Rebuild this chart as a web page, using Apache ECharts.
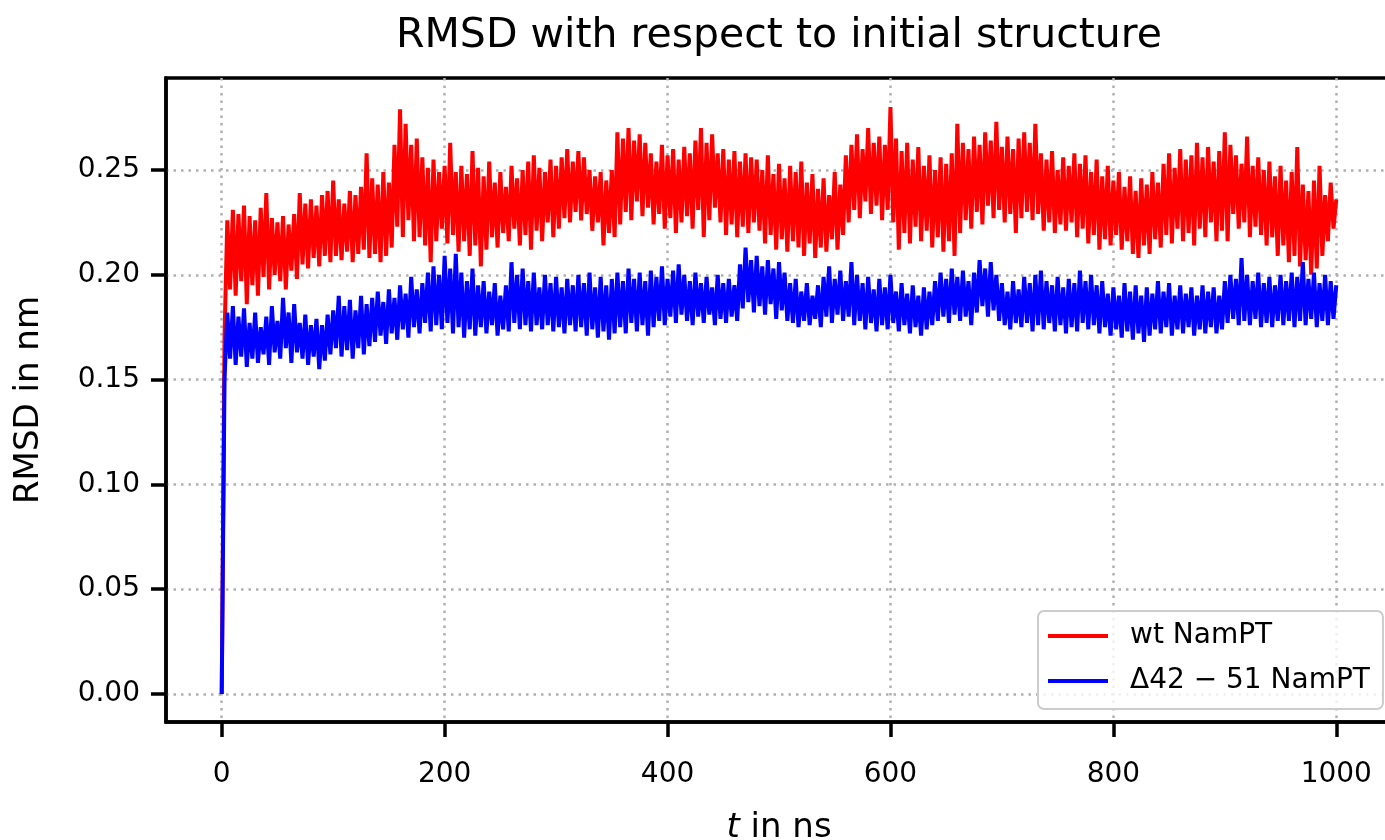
<!DOCTYPE html>
<html>
<head>
<meta charset="utf-8">
<script src="https://cdn.jsdelivr.net/npm/echarts@6/dist/echarts.min.js"></script>
<style>
  html, body { margin: 0; padding: 0; background: #ffffff; }
  #chart { width: 1385px; height: 840px; }
</style>
</head>
<body>
<div id="chart"></div>
<script>
// Sampling: upper-envelope samples at t = 0,5,...,1000 ns; lower-envelope samples at t = 2.5,7.5,...,997.5 ns
const STEP = 5;
const xTicks = [0, 200, 400, 600, 800, 1000];
const yTicks = [0, 0.05, 0.10, 0.15, 0.20, 0.25];
const seriesNames = ['wt NamPT', 'Δ42 − 51 NamPT'];

const wtHi = [
  0, .226, .231, .229, .233, .228, .226, .232, .239, .227, .225, .228, .224, .229, .239, .234, .236, .233, .238, .240,
  .245, .236, .234, .240, .238, .242, .258, .246, .243, .249, .244, .262, .279, .272, .262, .265, .256, .251, .255, .249,
  .252, .263, .249, .252, .248, .259, .251, .247, .254, .244, .249, .242, .252, .246, .250, .254, .257, .251, .249, .255,
  .252, .256, .260, .254, .259, .256, .250, .247, .249, .245, .250, .268, .265, .270, .264, .267, .263, .258, .254, .262,
  .257, .260, .255, .261, .258, .264, .270, .263, .267, .258, .260, .255, .259, .254, .258, .256, .255, .250, .257, .248,
  .253, .246, .252, .249, .254, .244, .248, .241, .246, .238, .249, .243, .257, .262, .267, .260, .270, .263, .266, .262,
  .280, .265, .259, .263, .255, .261, .252, .257, .250, .256, .253, .258, .272, .263, .260, .266, .262, .268, .264, .273,
  .261, .266, .260, .265, .268, .263, .272, .258, .255, .259, .250, .256, .252, .258, .253, .257, .249, .255, .247, .252,
  .245, .249, .242, .247, .240, .246, .243, .249, .244, .253, .258, .251, .260, .255, .257, .263, .256, .261, .254, .259,
  .268, .262, .257, .253, .266, .252, .256, .250, .254, .247, .252, .245, .249, .261, .243, .240, .245, .252, .238, .244,
  .236
];
const wtLo = [
  .170, .193, .190, .197, .186, .195, .190, .199, .193, .200, .197, .193, .202, .198, .205, .203, .208, .204, .209, .206,
  .209, .207, .211, .206, .210, .212, .208, .210, .206, .209, .213, .223, .218, .226, .216, .218, .214, .206, .216, .222,
  .215, .219, .211, .216, .209, .214, .204, .212, .218, .213, .220, .216, .222, .214, .219, .212, .221, .216, .225, .218,
  .222, .227, .225, .230, .226, .229, .221, .225, .214, .220, .218, .224, .230, .226, .235, .228, .232, .224, .229, .222,
  .227, .220, .225, .228, .222, .231, .218, .226, .232, .225, .219, .224, .218, .223, .220, .225, .221, .215, .219, .212,
  .217, .211, .216, .213, .209, .215, .208, .213, .211, .217, .212, .219, .225, .231, .227, .235, .229, .233, .226, .231,
  .225, .212, .220, .215, .223, .216, .221, .213, .218, .211, .216, .209, .220, .226, .222, .230, .224, .233, .227, .231,
  .225, .229, .220, .227, .230, .226, .229, .221, .225, .220, .224, .221, .225, .218, .222, .215, .219, .212, .217, .214,
  .219, .212, .216, .210, .208, .214, .210, .217, .213, .219, .215, .222, .216, .220, .214, .222, .218, .225, .216, .221,
  .216, .229, .222, .225, .218, .223, .219, .214, .218, .209, .214, .206, .209, .204, .207, .200, .203, .209, .216, .222
];
const dHi = [
  0, .182, .185, .180, .184, .177, .182, .175, .180, .185, .178, .189, .182, .186, .177, .181, .176, .179, .176, .181,
  .183, .190, .185, .188, .183, .190, .186, .189, .192, .187, .193, .189, .195, .191, .199, .193, .196, .201, .204, .200,
  .209, .203, .210, .201, .197, .203, .195, .197, .192, .196, .190, .195, .206, .200, .203, .197, .201, .194, .200, .196,
  .199, .194, .198, .195, .200, .196, .201, .194, .199, .195, .198, .201, .197, .203, .198, .201, .197, .202, .199, .204,
  .198, .202, .205, .200, .197, .201, .196, .199, .194, .200, .196, .198, .195, .205, .213, .207, .209, .204, .207, .203,
  .206, .201, .196, .198, .192, .196, .190, .195, .199, .204, .198, .202, .197, .206, .200, .196, .199, .193, .198, .194,
  .200, .192, .196, .191, .195, .190, .194, .192, .197, .201, .198, .203, .199, .202, .197, .201, .207, .203, .206, .200,
  .196, .192, .197, .193, .199, .196, .200, .202, .197, .195, .199, .194, .198, .196, .202, .197, .200, .195, .197, .191,
  .194, .190, .196, .192, .195, .190, .194, .191, .197, .192, .196, .190, .195, .191, .194, .190, .195, .192, .194, .190,
  .197, .200, .198, .208, .200, .197, .201, .196, .199, .195, .200, .197, .201, .199, .206, .198, .201, .196, .200, .197,
  .195
];
const dLo = [
  .150, .160, .157, .161, .156, .160, .158, .162, .157, .163, .160, .165, .158, .163, .160, .157, .161, .155, .159, .162,
  .165, .161, .164, .160, .165, .162, .166, .168, .171, .167, .172, .169, .174, .170, .175, .172, .177, .173, .176, .174,
  .177, .172, .175, .170, .174, .171, .175, .172, .176, .171, .174, .173, .177, .174, .176, .173, .176, .174, .176, .173,
  .175, .172, .176, .173, .175, .171, .174, .170, .173, .169, .172, .175, .172, .177, .173, .176, .171, .175, .178, .176,
  .180, .177, .181, .178, .176, .180, .177, .181, .176, .179, .177, .180, .178, .184, .187, .182, .185, .181, .186, .179,
  .183, .178, .177, .175, .178, .176, .179, .175, .180, .177, .181, .178, .180, .176, .178, .174, .177, .173, .176, .174,
  .177, .173, .176, .172, .175, .171, .174, .176, .178, .180, .177, .181, .178, .180, .176, .182, .185, .180, .183, .178,
  .176, .174, .177, .175, .177, .173, .176, .174, .177, .173, .176, .172, .175, .173, .177, .174, .176, .172, .175, .171,
  .174, .170, .173, .169, .172, .168, .171, .174, .172, .175, .171, .174, .172, .175, .171, .174, .172, .175, .172, .174,
  .177, .179, .176, .178, .176, .179, .175, .177, .175, .178, .176, .178, .175, .178, .176, .179, .175, .178, .176, .179
];

function interleave(hi, lo) {
  const out = [];
  const n = Math.max(hi.length, lo.length);
  for (let i = 0; i < n; i++) {
    if (i < hi.length) out.push([i * STEP, hi[i]]);
    if (i < lo.length) out.push([i * STEP + STEP / 2, lo[i]]);
  }
  return out;
}

const FONT = 'DejaVu Sans';
const chart = echarts.init(document.getElementById('chart'), null, { renderer: 'canvas' });

const gridLine = { show: true, lineStyle: { color: '#b0b0b0', width: 2.5, type: [2.5, 5] } };

chart.setOption({
  animation: false,
  backgroundColor: '#ffffff',
  title: {
    text: 'RMSD with respect to initial structure',
    left: 774,
    top: 11,
    textAlign: 'center',
    textStyle: { fontFamily: FONT, fontSize: 41, fontWeight: 'normal', color: '#000' }
  },
  grid: {
    left: 166, width: 1226, top: 78, height: 644,
    containLabel: false,
    outerBoundsMode: 'none',
    show: true, borderColor: '#000', borderWidth: 3.5, backgroundColor: 'transparent'
  },
  legend: {
    data: seriesNames,
    orient: 'vertical',
    left: 1038, top: 611,
    padding: [11, 13, 14, 10],
    itemWidth: 60, itemHeight: 4,
    itemGap: 17,
    icon: 'rect',
    backgroundColor: 'rgba(255,255,255,0.8)',
    borderColor: '#cccccc', borderWidth: 2, borderRadius: 6,
    textStyle: { fontFamily: FONT, fontSize: 28, color: '#000', padding: [0, 0, 0, 17] }
  },
  xAxis: {
    type: 'value',
    min: -50, max: 1050,
    name: '{i|t} in ns',
    nameLocation: 'middle',
    nameGap: 89,
    nameTextStyle: {
      fontFamily: FONT, fontSize: 34, color: '#000',
      rich: { i: { fontFamily: FONT, fontSize: 34, fontStyle: 'italic', color: '#000' } }
    },
    axisLine: { show: true, onZero: false, lineStyle: { color: '#000', width: 3.5 } },
    axisTick: { show: true, customValues: xTicks, length: 15, lineStyle: { color: '#000', width: 3.5 } },
    axisLabel: {
      customValues: xTicks, margin: 39, fontFamily: FONT, fontSize: 28, color: '#000',
      formatter: v => String(v)
    },
    splitLine: gridLine
  },
  yAxis: {
    type: 'value',
    min: -0.0134, max: 0.2939,
    name: 'RMSD in nm',
    nameLocation: 'middle',
    nameGap: 120,
    nameTextStyle: { fontFamily: FONT, fontSize: 34, color: '#000' },
    axisLine: { show: true, onZero: false, lineStyle: { color: '#000', width: 3.5 } },
    axisTick: { show: true, customValues: yTicks, length: 15, lineStyle: { color: '#000', width: 3.5 } },
    axisLabel: {
      customValues: yTicks, margin: 26, fontFamily: FONT, fontSize: 28, color: '#000',
      formatter: v => v.toFixed(2)
    },
    splitLine: gridLine
  },
  series: [
    {
      name: seriesNames[0], type: 'line', data: interleave(wtHi, wtLo),
      showSymbol: false, symbol: 'none', color: '#ff0000', sampling: 'none',
      lineStyle: { color: '#ff0000', width: 4 }
    },
    {
      name: seriesNames[1], type: 'line', data: interleave(dHi, dLo),
      showSymbol: false, symbol: 'none', color: '#0000ff', sampling: 'none',
      lineStyle: { color: '#0000ff', width: 4 }
    }
  ]
});
</script>
</body>
</html>
